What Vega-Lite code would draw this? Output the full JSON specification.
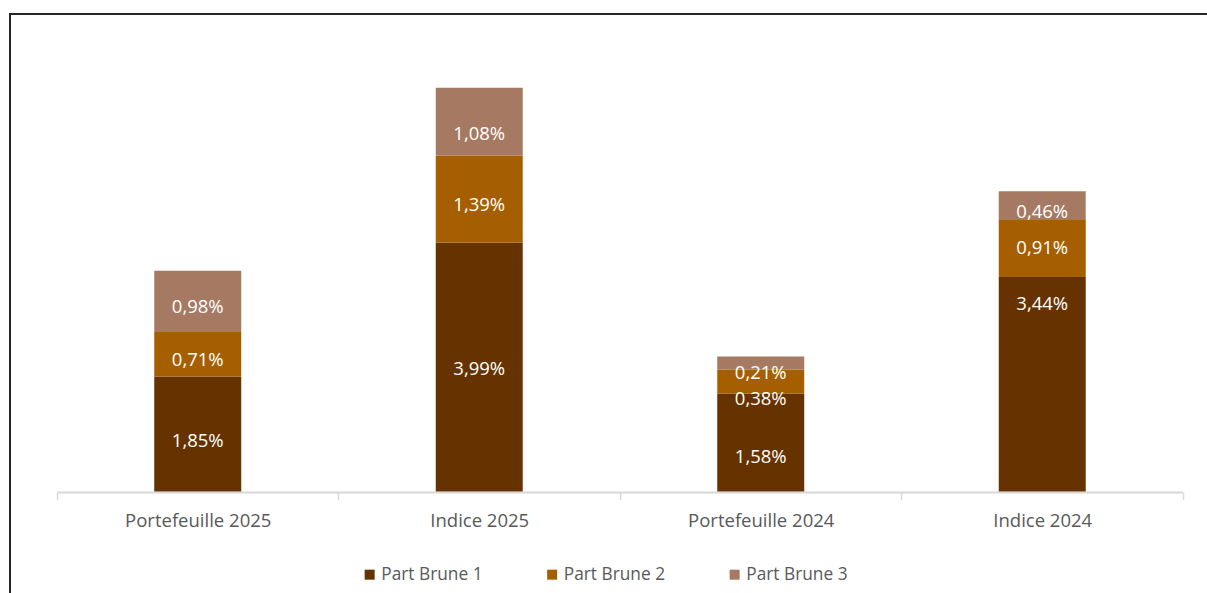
{
  "$schema": "https://vega.github.io/schema/vega-lite/v6.json",
  "width": 1200,
  "height": 600,
  "autosize": {"type": "none"},
  "padding": {"left": 10, "top": 14, "right": 0, "bottom": 0},
  "background": "white",
  "config": {
    "view": {"stroke": "#262626", "strokeWidth": 2},
    "font": "Open Sans",
    "locale": {"number": {"decimal": ",", "thousands": " ", "grouping": [3], "currency": ["", " €"]}}
  },
  "data": {
    "values": [
      {"cat": "Portefeuille 2025", "serie": "Part Brune 1", "v": 0.0185},
      {"cat": "Portefeuille 2025", "serie": "Part Brune 2", "v": 0.0071},
      {"cat": "Portefeuille 2025", "serie": "Part Brune 3", "v": 0.0098},
      {"cat": "Indice 2025", "serie": "Part Brune 1", "v": 0.0399},
      {"cat": "Indice 2025", "serie": "Part Brune 2", "v": 0.0139},
      {"cat": "Indice 2025", "serie": "Part Brune 3", "v": 0.0108},
      {"cat": "Portefeuille 2024", "serie": "Part Brune 1", "v": 0.0158},
      {"cat": "Portefeuille 2024", "serie": "Part Brune 2", "v": 0.0038},
      {"cat": "Portefeuille 2024", "serie": "Part Brune 3", "v": 0.0021},
      {"cat": "Indice 2024", "serie": "Part Brune 1", "v": 0.0344},
      {"cat": "Indice 2024", "serie": "Part Brune 2", "v": 0.0091},
      {"cat": "Indice 2024", "serie": "Part Brune 3", "v": 0.0046}
    ]
  },
  "encoding": {
    "x": {
      "field": "cat",
      "type": "nominal",
      "sort": ["Portefeuille 2025", "Indice 2025", "Portefeuille 2024", "Indice 2024"],
      "scale": {"paddingInner": 0, "paddingOuter": 0.13144, "align": 0.635},
      "axis": {
        "title": null,
        "domain": false,
        "tickBand": "extent",
        "tickSize": 7,
        "tickColor": "#d9d9d9",
        "tickWidth": 1.5,
        "labelAngle": 0,
        "labelFont": "Open Sans",
        "labelFontSize": 18.5,
        "labelColor": "#595959",
        "labelPadding": 12,
        "offset": -121.5
      }
    }
  },
  "layer": [
    {
      "mark": {"type": "bar", "width": {"band": 0.309}},
      "encoding": {
        "y": {
          "field": "v",
          "type": "quantitative",
          "stack": "zero",
          "axis": null,
          "scale": {"domain": [-0.019393, 0.076376], "nice": false, "zero": false}
        },
        "color": {
          "field": "serie",
          "type": "nominal",
          "scale": {
            "domain": ["Part Brune 1", "Part Brune 2", "Part Brune 3"],
            "range": ["#663300", "#A65F00", "#A67A62"]
          },
          "legend": {
            "title": null,
            "orient": "none",
            "direction": "horizontal",
            "legendX": 351,
            "legendY": 552,
            "symbolType": "square",
            "symbolSize": 100,
            "symbolStrokeWidth": 0,
            "labelFont": "Open Sans",
            "labelFontSize": 17.3,
            "labelColor": "#595959",
            "labelOffset": 3,
            "columnPadding": 60.5
          }
        },
        "order": {"field": "serie", "sort": "ascending"}
      }
    },
    {
      "mark": {
        "type": "text",
        "color": "white",
        "fontSize": 18.5,
        "font": "Open Sans",
        "baseline": "middle",
        "dy": {"expr": "datum.cat === 'Indice 2024' && datum.serie === 'Part Brune 1' ? -81 : datum.cat === 'Indice 2024' && datum.serie === 'Part Brune 2' ? 0 : datum.cat === 'Indice 2025' && datum.serie === 'Part Brune 1' ? 1 : datum.cat === 'Portefeuille 2024' && datum.serie === 'Part Brune 2' ? 17 : datum.cat === 'Portefeuille 2024' && datum.serie === 'Part Brune 3' ? 10 : datum.cat === 'Portefeuille 2024' && datum.serie === 'Part Brune 1' ? 14 : datum.cat === 'Indice 2025' && datum.serie === 'Part Brune 3' ? 12 : 6"}
      },
      "encoding": {
        "y": {"field": "v", "type": "quantitative", "stack": "zero", "bandPosition": 0.5},
        "text": {"field": "v", "type": "quantitative", "format": ".2%"},
        "order": {"field": "serie", "sort": "ascending"},
        "detail": {"field": "serie"}
      }
    },
    {
      "mark": {"type": "rule", "color": "#d9d9d9", "strokeWidth": 1.5},
      "encoding": {
        "x": {"field": "cat", "type": "nominal", "bandPosition": 0, "sort": ["Portefeuille 2025", "Indice 2025", "Portefeuille 2024", "Indice 2024"]},
        "x2": {"field": "cat", "bandPosition": 1},
        "y": {"datum": 0, "type": "quantitative"}
      }
    }
  ]
}
